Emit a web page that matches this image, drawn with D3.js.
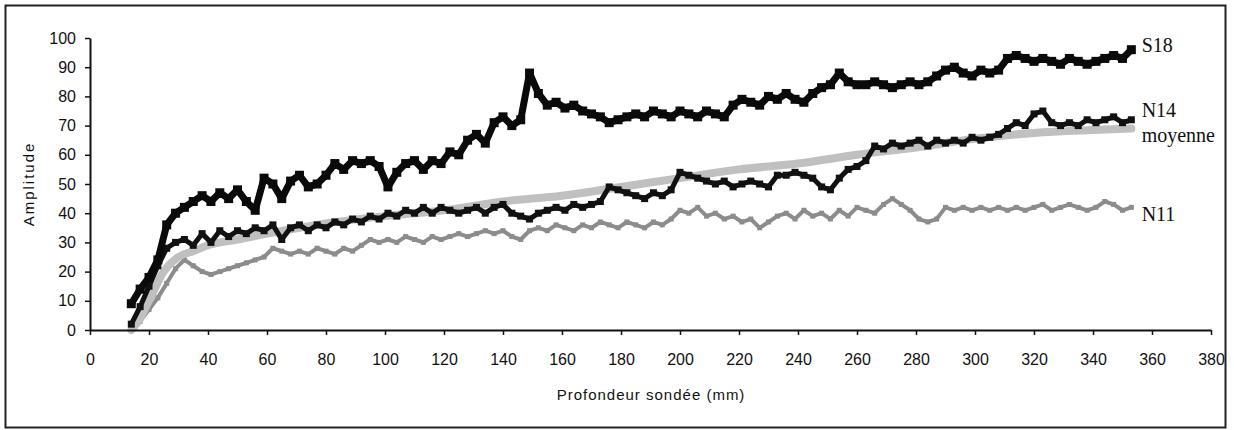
<!DOCTYPE html>
<html>
<head>
<meta charset="utf-8">
<script src="https://cdn.jsdelivr.net/npm/d3@7"></script>
<style>
  body { margin: 0; background: #fff; }
  svg { display: block; }
</style>
</head>
<body>
<script>
// depth sampling (mm), one reading every 3 mm
const depth = d3.range(14, 354, 3);

// amplitudes
const s18 = [9,14,18,24,36,40,42,44,46,44,47,45,48,44,41,52,50,45,51,53,49,50,53,57,55,58,57,58,56,49,
  54,57,58,55,58,57,61,60,65,67,64,71,73,70,72,88,81,77,78,76,77,75,74,73,71,72,73,74,73,75,
  74,73,75,74,73,75,74,73,77,79,78,77,80,79,81,79,78,81,83,84,88,85,84,84,85,84,83,84,85,84,
  85,87,89,90,88,87,89,88,89,93,94,93,92,93,92,91,93,92,91,92,93,94,93,96];
const n14 = [2,8,15,22,28,30,31,29,33,30,34,32,34,33,35,34,36,31,35,36,34,36,35,37,36,38,37,39,38,40,
  39,41,40,42,40,42,41,40,41,42,40,42,43,40,39,38,40,41,42,41,43,42,43,44,49,48,47,46,45,47,
  46,48,54,53,52,51,50,51,49,50,51,50,49,53,53,54,53,52,49,48,52,55,56,58,63,62,64,63,64,65,
  63,65,64,65,64,66,65,66,67,69,71,70,74,75,71,70,71,70,72,71,72,73,71,72];
const n11 = [0,3,7,11,16,21,24,22,20,19,20,21,22,23,24,25,28,27,26,27,26,28,27,26,28,27,29,31,30,31,
  30,32,31,30,32,31,32,33,32,33,34,33,34,32,31,34,35,34,36,35,34,36,35,37,36,35,37,36,35,37,
  36,38,41,40,42,39,40,38,39,37,38,35,37,39,40,38,41,39,40,38,41,39,42,41,40,43,45,43,41,38,
  37,38,42,41,42,41,42,41,42,41,42,41,42,43,41,42,43,42,41,42,44,43,41,42];

// smooth mean curve
const moyDepth = [14,17,20,25,30,35,40,50,60,80,100,120,140,160,180,200,220,240,260,280,300,320,340,353];
const moyenne  = [0,4,10,20,25,27,29,31,33,36.5,39,41,44,46,49,52,55,57,60,62.5,65.5,67.5,68.5,69];

const xTicks = d3.range(0, 381, 20);
const yTicks = d3.range(0, 101, 10);

const labels = [
  { text: 'S18', y: 95.2 },
  { text: 'N14', y: 72.9 },
  { text: 'moyenne', y: 64.4 },
  { text: 'N11', y: 37.3 }
];

const W = 1234, H = 430;
const svg = d3.select('body').append('svg').attr('width', W).attr('height', H);

// frame
svg.append('rect')
  .attr('x', 5.5).attr('y', 5.5)
  .attr('width', 1220).attr('height', 422)
  .attr('fill', 'none').attr('stroke', '#222').attr('stroke-width', 2);

const x = d3.scaleLinear().domain([0, 380]).range([90, 1211]);
const y = d3.scaleLinear().domain([0, 100]).range([330, 38]);

const line = d3.line().x(d => x(d[0])).y(d => y(d[1]));
const smooth = d3.line().x(d => x(d[0])).y(d => y(d[1])).curve(d3.curveMonotoneX);

const g = svg.append('g');

// noisy series drawn as a thick line plus square markers
function series(vals, color, width, size) {
  const pts = d3.zip(depth, vals);
  g.append('path')
    .datum(pts)
    .attr('d', line)
    .attr('fill', 'none').attr('stroke', color)
    .attr('stroke-width', width).attr('stroke-linejoin', 'round');
  g.append('g').selectAll('rect')
    .data(pts)
    .join('rect')
    .attr('x', d => x(d[0]) - size / 2)
    .attr('y', d => y(d[1]) - size / 2)
    .attr('width', size).attr('height', size)
    .attr('fill', color);
}

series(n11, '#8c8c8c', 4, 5);

// moyenne
g.append('path')
  .datum(d3.zip(moyDepth, moyenne))
  .attr('d', smooth)
  .attr('fill', 'none').attr('stroke', '#c0c0c0')
  .attr('stroke-width', 8).attr('stroke-linecap', 'round');

series(n14, '#111', 5, 7);
series(s18, '#0a0a0a', 7, 9);

// axes
const fontTick = '"Liberation Sans", Arial, sans-serif';

const xAxis = svg.append('g')
  .attr('transform', `translate(0,${y(0)})`)
  .call(d3.axisBottom(x).tickValues(xTicks).tickSize(5).tickPadding(19).tickSizeOuter(0));
const yAxis = svg.append('g')
  .attr('transform', `translate(${x(0)},0)`)
  .call(d3.axisLeft(y).tickValues(yTicks).tickSize(5).tickPadding(9).tickSizeOuter(0));

[xAxis, yAxis].forEach(a => {
  a.select('.domain').attr('stroke', '#111').attr('stroke-width', 2);
  a.selectAll('.tick line').attr('stroke', '#111').attr('stroke-width', 1.5);
  a.selectAll('.tick text')
    .attr('fill', '#111')
    .style('font-family', fontTick)
    .style('font-size', '16px');
});

// axis titles
svg.append('text')
  .attr('x', 651).attr('y', 400)
  .attr('text-anchor', 'middle')
  .style('font-family', fontTick).style('font-size', '15px')
  .style('letter-spacing', '1px')
  .attr('fill', '#111')
  .text('Profondeur sondée (mm)');

svg.append('text')
  .attr('transform', 'translate(34,184) rotate(-90)')
  .attr('text-anchor', 'middle')
  .style('font-family', fontTick).style('font-size', '15px')
  .style('letter-spacing', '2px')
  .attr('fill', '#111')
  .text('Amplitude');

// series labels
svg.append('g').selectAll('text')
  .data(labels)
  .join('text')
  .attr('x', x(356.5)).attr('y', d => y(d.y))
  .style('font-family', '"Liberation Serif", "Times New Roman", serif')
  .style('font-size', '20px')
  .attr('fill', '#111')
  .text(d => d.text);
</script>
</body>
</html>
